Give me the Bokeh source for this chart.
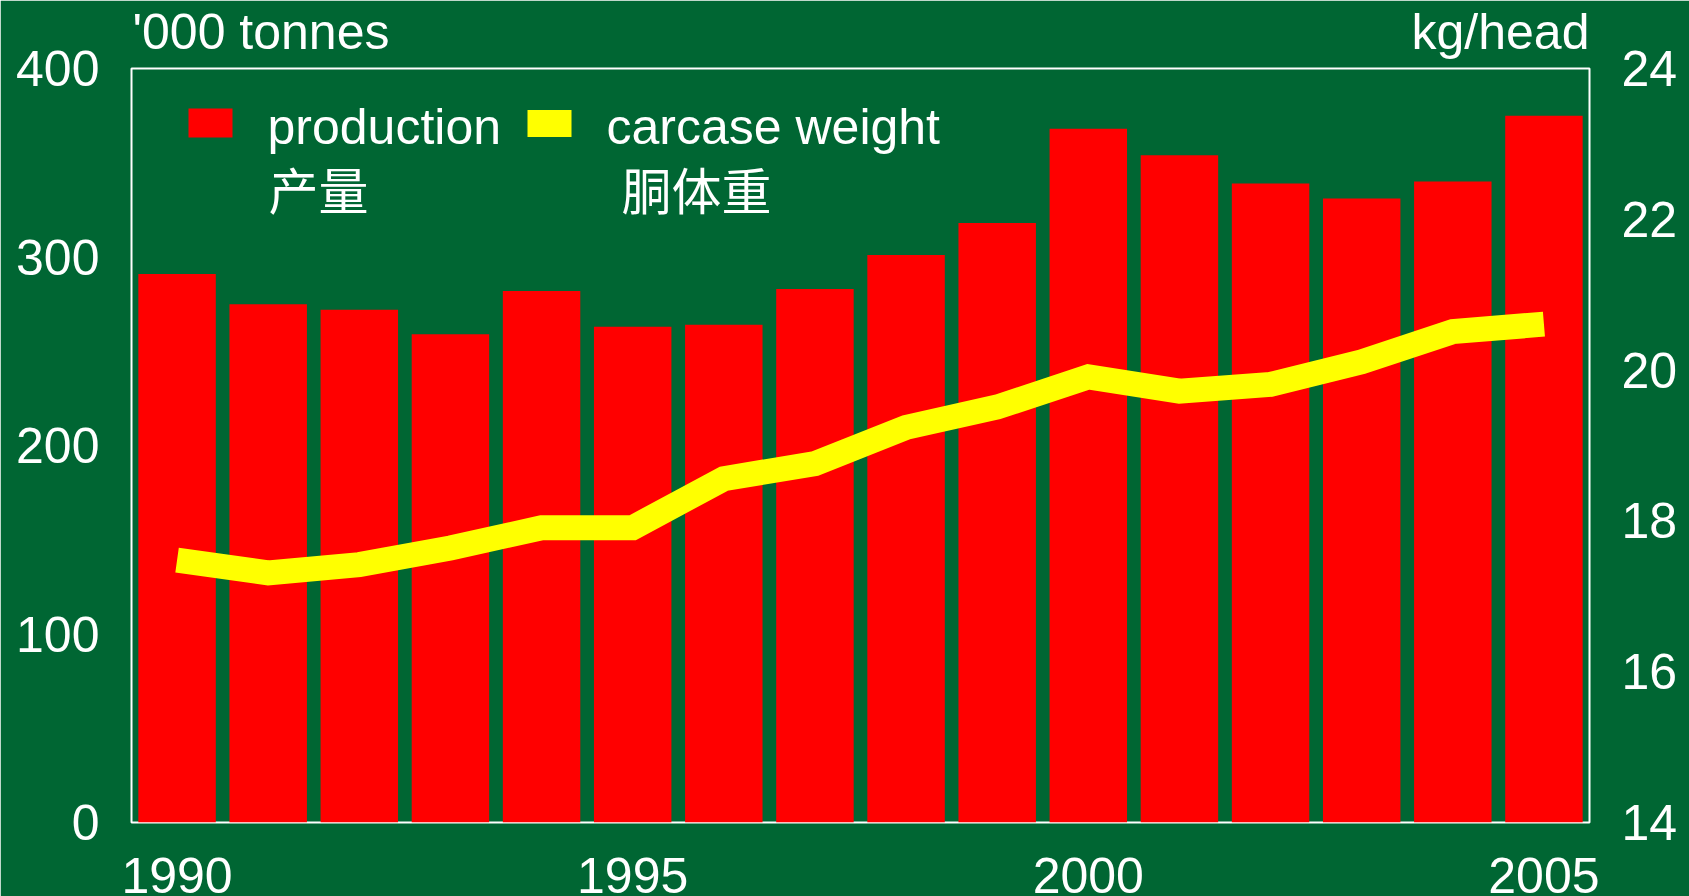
from bokeh.plotting import figure
from bokeh.models import Range1d, LinearAxis, FixedTicker
from bokeh.core.properties import value
from bokeh.embed import file_html
from bokeh.resources import INLINE

# ---- data ----
years = list(range(1990, 2006))
production = [291, 275, 272, 259, 282, 263, 264, 283, 301, 318, 368, 354, 339, 331, 340, 375]
carcase_weight = [17.48, 17.31, 17.42, 17.64, 17.91, 17.91, 18.56, 18.76, 19.24, 19.51,
                  19.91, 19.72, 19.81, 20.11, 20.51, 20.61]
left_ticks = [0, 100, 200, 300, 400]
right_ticks = [14, 16, 18, 20, 22, 24]
x_ticks = [1990, 1995, 2000, 2005]
left_title = "'000 tonnes"
right_title = "kg/head"
legend_en = ["production", "carcase weight"]
legend_zh = ["产量", "胴体重"]

# ---- style ----
GREEN = "#006633"
RED = "#FF0000"
YELLOW = "#FFFF00"
FONT = "Liberation Sans"
CJK = "Noto Sans CJK SC"
FS = "50px"

FW, FH = 1458, 754
X0, X1 = 1989.5, 2005.5
Y0, Y1 = 0, 400

p = figure(frame_width=FW, frame_height=FH,
           x_range=Range1d(X0, X1), y_range=Range1d(Y0, Y1),
           output_backend="svg", toolbar_location=None,
           min_border_left=131, min_border_right=100, min_border_top=67, min_border_bottom=80,
           background_fill_color=GREEN, border_fill_color=GREEN,
           outline_line_color="white", outline_line_width=2)
p.extra_y_ranges = {"right": Range1d(14, 24)}
p.grid.visible = False

xa = p.xaxis[0]
ya = p.yaxis[0]

p.vbar(x=years, top=production, width=0.85, fill_color=RED, line_color=None)
p.line(x=years, y=carcase_weight, y_range_name="right", line_color=YELLOW,
       line_width=25, line_join="miter", line_cap="butt")


def dx(px):
    return X0 + px * (X1 - X0) / FW


def dy(px):
    return Y1 - px * (Y1 - Y0) / FH


ra = LinearAxis(y_range_name="right")
p.add_layout(ra, "right")

# unit titles above the frame, drawn as (centred) labels of an otherwise empty top axis
w_left, w_right = 259, 178  # rendered widths in px
t_left = dx(w_left / 2)
t_right = dx(FW - w_right / 2)
ta = LinearAxis(ticker=FixedTicker(ticks=[t_left, t_right]))
ta.major_label_overrides = {t_left: left_title, t_right: right_title}
ta.major_label_standoff = 3
p.add_layout(ta, "above")

xa.ticker = FixedTicker(ticks=x_ticks)
ya.ticker = FixedTicker(ticks=left_ticks)
ra.ticker = FixedTicker(ticks=right_ticks)

for ax in [xa, ya, ra, ta]:
    ax.axis_line_color = None
    ax.major_tick_line_color = None
    ax.minor_tick_line_color = None
    ax.major_label_text_font = FONT
    ax.major_label_text_font_size = FS
    ax.major_label_text_color = "white"
xa.major_label_standoff = 29
ya.major_label_standoff = 26
ra.major_label_standoff = 26

# legend
p.rect(x=[dx(79)], y=[dy(54.5)], width=44, height=29, width_units="screen",
       height_units="screen", fill_color=RED, line_color=None)
p.rect(x=[dx(418)], y=[dy(55)], width=44, height=27, width_units="screen",
       height_units="screen", fill_color=YELLOW, line_color=None)
p.text(x=[dx(136), dx(475)], y=[dy(58), dy(58)], text=legend_en,
       text_font=value(FONT), text_font_size=FS, text_color="white",
       text_align="left", text_baseline="alphabetic")
p.text(x=[dx(137), dx(490)], y=[dy(119), dy(119)], text=legend_zh,
       text_font=value(CJK), text_font_size=FS, text_color="white",
       text_align="left", text_baseline="alphabetic")

html = file_html(p, INLINE)
html = html.replace("<body>", '<body style="background-color:#006633; overflow:hidden;">', 1)
open("out.html", "w").write(html)
